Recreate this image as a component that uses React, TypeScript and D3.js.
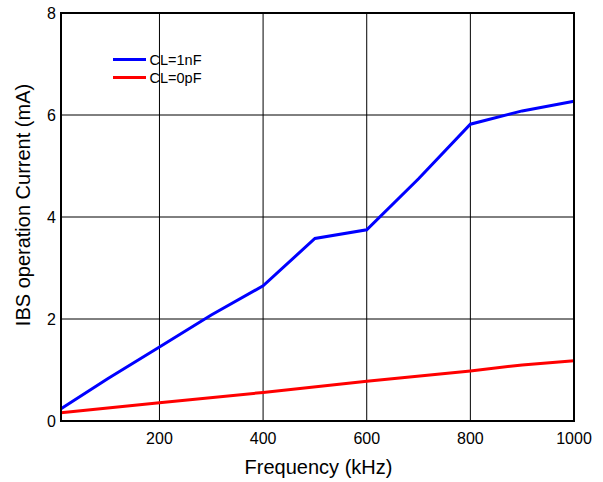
import React from "react";
import * as d3 from "d3";

const freqBlue = [10, 100, 200, 300, 400, 500, 600, 700, 800, 900, 1000];
const currentBlue = [0.24, 0.83, 1.45, 2.08, 2.65, 3.58, 3.75, 4.75, 5.82, 6.08, 6.27];
const freqRed = [10, 200, 400, 600, 800, 900, 1000];
const currentRed = [0.16, 0.36, 0.56, 0.78, 0.98, 1.1, 1.18];
const xTicks = [200, 400, 600, 800, 1000];
const yTicks = [0, 2, 4, 6, 8];
const seriesNames = ["CL=1nF", "CL=0pF"];
const seriesColors = ["#0000ff", "#ff0000"];

const W = 603, H = 482;
const L = 61, R = 574, T = 13, B = 421;

export default function App() {
  const x = d3.scaleLinear().domain([10, 1000]).range([L, R]);
  const y = d3.scaleLinear().domain([0, 8]).range([B, T]);
  const line = d3.line<[number, number]>().x(d => x(d[0])).y(d => y(d[1]));
  const blue = line(freqBlue.map((f, i) => [f, currentBlue[i]] as [number, number])) || "";
  const red = line(freqRed.map((f, i) => [f, currentRed[i]] as [number, number])) || "";
  const font = "Liberation Sans, Arial, sans-serif";
  return (
    <svg width={W} height={H} style={{ position: "absolute", left: 0, top: 0, background: "#fff" }} fontFamily={font}>
      <rect x={0} y={0} width={W} height={H} fill="#fff" />
      {xTicks.slice(0, -1).map(t => (
        <line key={"gx" + t} x1={x(t)} x2={x(t)} y1={T} y2={B} stroke="#000" strokeWidth={1} />
      ))}
      {yTicks.slice(1, -1).map(t => (
        <line key={"gy" + t} x1={L} x2={R} y1={y(t)} y2={y(t)} stroke="#000" strokeWidth={1} />
      ))}
      <path d={red} fill="none" stroke={seriesColors[1]} strokeWidth={3} />
      <path d={blue} fill="none" stroke={seriesColors[0]} strokeWidth={3} />
      <rect x={L} y={T} width={R - L} height={B - T} fill="none" stroke="#000" strokeWidth={2} />
      {xTicks.map(t => (
        <text key={"tx" + t} x={x(t)} y={444} textAnchor="middle" fontSize={16} fill="#000">{t}</text>
      ))}
      {yTicks.map(t => (
        <text key={"ty" + t} x={56} y={y(t) + 6} textAnchor="end" fontSize={16} fill="#000">{t}</text>
      ))}
      <text x={318.5} y={474} textAnchor="middle" fontSize={20} fill="#000">Frequency (kHz)</text>
      <text transform="translate(30,205) rotate(-90)" textAnchor="middle" fontSize={20} fill="#000">IBS operation Current (mA)</text>
      {seriesNames.map((n, i) => (
        <g key={n}>
          <line x1={113} x2={146} y1={59.5 + i * 18} y2={59.5 + i * 18} stroke={seriesColors[i]} strokeWidth={3} />
          <text x={149.5} y={64.5 + i * 18} fontSize={14.5} fill="#000">{n}</text>
        </g>
      ))}
    </svg>
  );
}
